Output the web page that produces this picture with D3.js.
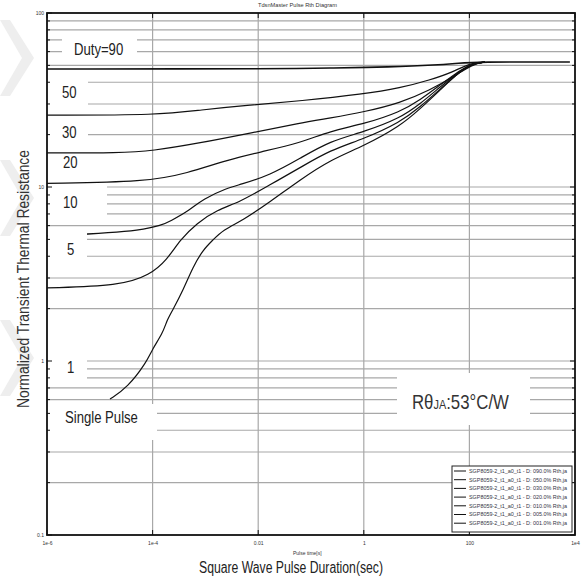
<!DOCTYPE html>
<html>
<head>
<meta charset="utf-8">
<script src="https://cdn.jsdelivr.net/npm/d3@7"></script>
<style>
  body { margin: 0; background: #fff; }
  svg { display: block; font-family: 'Liberation Sans', Arial, sans-serif; }
</style>
</head>
<body>
<script>
// pulse duration [s] vs thermal impedance
const duty90 = [[1e-6,47.7],[0.04,47.7],[0.23,48.3],[3.1,48.9],[24,50.2],[66,51.6],[128,52.3],[8000,52.3]];
const duty50 = [[1e-6,25.9],[1.4e-4,25.9],[7.9e-4,27.7],[7e-3,29.6],[0.062,31.2],[1,34.2],[4.9,37.1],[18,41.2],[49,45.8],[103,51.6],[197,52.3]];
const duty30 = [[1e-6,15.7],[2.4e-5,15.7],[9.7e-5,16.1],[7.9e-4,17.9],[7e-3,20.4],[0.062,23.3],[0.23,24.9],[1,27.0],[4.9,30.4],[18,36.1],[49,42.9],[117,50.9],[197,52.3]];
const duty20 = [[1e-6,10.5],[7.8e-5,10.7],[4.5e-4,12.0],[2.6e-3,14.3],[0.011,15.9],[0.062,17.9],[0.23,21.0],[1,23.0],[4.9,27.0],[11.6,31.6],[28,38.6],[53,44.6],[103,50.9],[197,52.3]];
const duty10 = [[1e-6,5.23],[8.9e-5,5.58],[2.4e-4,6.46],[5.1e-4,7.38],[9e-4,8.53],[2.6e-3,9.87],[4.5e-3,10.3],[0.0167,11.7],[0.062,14.6],[0.23,18.4],[1,20.7],[4.9,24.9],[11.6,30.0],[28,37.6],[53,44.0],[103,50.9],[197,52.3]];
const duty5  = [[1e-6,2.63],[2.4e-5,2.70],[8.9e-5,3.12],[1.87e-4,3.81],[3.3e-4,4.96],[6.9e-4,6.21],[1.66e-3,7.38],[4.5e-3,8.20],[0.0167,10.3],[0.062,12.9],[0.23,16.3],[1,18.9],[4.9,23.6],[11.6,28.8],[28,36.6],[53,43.4],[103,50.9],[197,52.3]];
const duty1  = [[1.56e-5,0.605],[3.3e-5,0.70],[7.8e-5,0.99],[9.7e-5,1.16],[1.57e-4,1.45],[1.87e-4,1.72],[2.4e-4,1.96],[3.8e-4,2.56],[5.8e-4,3.47],[9e-4,4.35],[1.39e-3,4.96],[2.15e-3,5.66],[5.2e-3,6.46],[0.0167,8.20],[0.062,11.0],[0.23,14.3],[1,17.2],[4.9,22.4],[11.6,28.1],[28,36.1],[53,43.4],[103,50.9],[197,52.3]];

const series = [duty90, duty50, duty30, duty20, duty10, duty5, duty1];
const legendNames = [
  'SGP8059-2_t1_a0_t1 - D: 090.0% Rth,ja',
  'SGP8059-2_t1_a0_t1 - D: 050.0% Rth,ja',
  'SGP8059-2_t1_a0_t1 - D: 030.0% Rth,ja',
  'SGP8059-2_t1_a0_t1 - D: 020.0% Rth,ja',
  'SGP8059-2_t1_a0_t1 - D: 010.0% Rth,ja',
  'SGP8059-2_t1_a0_t1 - D: 005.0% Rth,ja',
  'SGP8059-2_t1_a0_t1 - D: 001.0% Rth,ja'
];
const xTicks = [1e-6, 1e-4, 0.01, 1, 100, 1e4];
const xTickLabels = ['1e-6', '1e-4', '0.01', '1', '100', '1e4'];
const yTicks = [0.1, 1, 10, 100];
const yTickLabels = ['0.1', '1', '10', '100'];

const W = 587, H = 579;
const plot = { left: 47, right: 575, top: 13, bottom: 535 };

const svg = d3.select('body').append('svg')
  .attr('width', W).attr('height', H);

svg.append('rect').attr('width', W).attr('height', H).attr('fill', '#fff');

// faint scan watermark on the left margin
svg.append('g').attr('fill', '#eeeeee')
  .selectAll('path').data([20, 160, 320]).join('path')
  .attr('d', y0 => `M0,${y0} L10,${y0} L34,${y0 + 38} L10,${y0 + 76} L0,${y0 + 76} L22,${y0 + 38} Z`);

const x = d3.scaleLog().domain([1e-6, 1e4]).range([plot.left, plot.right]);
const y = d3.scaleLog().domain([0.1, 100]).range([plot.bottom, plot.top]);

// minor grid values 0.1..100
const yGrid = [];
[0.1, 1, 10].forEach(d => { for (let k = 1; k <= 9; k++) yGrid.push(+(k * d).toPrecision(3)); });
yGrid.push(100);

const grid = svg.append('g').attr('stroke', '#a8a8a8').attr('stroke-width', 1.2);
grid.selectAll('line.h').data(yGrid.slice(1, -1)).join('line')
  .attr('class', 'h')
  .attr('x1', plot.left).attr('x2', plot.right)
  .attr('y1', d => y(d)).attr('y2', d => y(d));
grid.selectAll('line.v').data(xTicks.slice(1, -1)).join('line')
  .attr('class', 'v')
  .attr('x1', d => x(d)).attr('x2', d => x(d))
  .attr('y1', plot.top).attr('y2', plot.bottom);

// curves
const line = d3.line().x(d => x(d[0])).y(d => y(d[1])).curve(d3.curveBasis);
svg.append('g').attr('fill', 'none').attr('stroke', '#111')
  .selectAll('path').data(series).join('path')
  .attr('stroke-width', (d, i) => i === 0 ? 1.6 : 1.2)
  .attr('d', line);

// labels on white patches (they hide grid and curve bits behind them)
const notes = [
  { text: 'Duty=90', x: 74, y: 55, box: [62, 35, 137, 60] },
  { text: '50', x: 62, y: 98, box: [48, 75, 88, 110] },
  { text: '30', x: 62, y: 138, box: [48, 122, 88, 146] },
  { text: '20', x: 63, y: 168, box: [48, 156, 88, 178] },
  { text: '10', x: 63, y: 208, box: [48, 186, 107, 222] },
  { text: '5', x: 67, y: 255, box: [48, 231, 87, 265] },
  { text: '1', x: 67, y: 373, box: [48, 356, 87, 384] },
  { text: 'Single Pulse', x: 65, y: 423, box: [48, 404, 157, 440] }
];
const ng = svg.append('g');
notes.forEach(n => {
  ng.append('rect')
    .attr('x', n.box[0]).attr('y', n.box[1])
    .attr('width', n.box[2] - n.box[0]).attr('height', n.box[3] - n.box[1])
    .attr('fill', '#fff');
  ng.append('text')
    .attr('transform', `translate(${n.x},${n.y}) scale(0.82,1)`)
    .attr('font-size', 16).attr('fill', '#222')
    .text(n.text);
});

// R theta box
ng.append('rect').attr('x', 397).attr('y', 373).attr('width', 133).attr('height', 52).attr('fill', '#fff');
const rt = ng.append('text').attr('transform', 'translate(412,409) scale(0.84,1)')
  .attr('font-size', 20).attr('fill', '#333');
rt.append('tspan').text('Rθ');
rt.append('tspan').attr('font-size', 13).text('JA');
rt.append('tspan').text(':53°C/W');

// frame + ticks
const axes = svg.append('g');
axes.append('g').attr('transform', `translate(0,${plot.bottom})`)
  .call(d3.axisBottom(x).tickValues(xTicks).tickFormat((d, i) => xTickLabels[i]).tickSize(0).tickPadding(6))
  .call(g => g.select('.domain').remove())
  .selectAll('text').attr('font-size', 5).attr('fill', '#333');
axes.append('g').attr('transform', `translate(${plot.left},0)`)
  .call(d3.axisLeft(y).tickValues(yTicks).tickFormat((d, i) => yTickLabels[i]).tickSize(0).tickPadding(3))
  .call(g => g.select('.domain').remove())
  .selectAll('text').attr('font-size', 5).attr('fill', '#333');

// small inner ticks
const tk = axes.append('g').attr('stroke', '#111').attr('stroke-width', 1);
tk.selectAll('line.l').data(yGrid).join('line').attr('class', 'l')
  .attr('x1', plot.left).attr('x2', d => plot.left + (yTicks.includes(d) ? 5 : 3))
  .attr('y1', d => y(d)).attr('y2', d => y(d));
tk.selectAll('line.r').data(yGrid).join('line').attr('class', 'r')
  .attr('x1', plot.right).attr('x2', d => plot.right - (yTicks.includes(d) ? 5 : 3))
  .attr('y1', d => y(d)).attr('y2', d => y(d));
tk.selectAll('line.t').data(xTicks).join('line').attr('class', 't')
  .attr('x1', d => x(d)).attr('x2', d => x(d))
  .attr('y1', plot.top).attr('y2', plot.top + 5);
tk.selectAll('line.b').data(xTicks).join('line').attr('class', 'b')
  .attr('x1', d => x(d)).attr('x2', d => x(d))
  .attr('y1', plot.bottom).attr('y2', plot.bottom - 5);

axes.append('rect')
  .attr('x', plot.left).attr('y', plot.top)
  .attr('width', plot.right - plot.left).attr('height', plot.bottom - plot.top)
  .attr('fill', 'none').attr('stroke', '#111').attr('stroke-width', 1.8);

// legend
const lg = svg.append('g');
lg.append('rect').attr('x', 452).attr('y', 466).attr('width', 120).attr('height', 66)
  .attr('fill', '#fff').attr('stroke', '#222').attr('stroke-width', 1);
lg.selectAll('g.row').data(legendNames).join('g').attr('class', 'row')
  .attr('transform', (d, i) => `translate(0,${471 + i * 8.7})`)
  .each(function (d) {
    const r = d3.select(this);
    r.append('line').attr('x1', 454).attr('x2', 466).attr('stroke', '#111').attr('stroke-width', 1);
    r.append('text').attr('x', 469).attr('dy', '0.35em').attr('font-size', 5.2).attr('fill', '#334')
      .attr('textLength', 98).attr('lengthAdjust', 'spacingAndGlyphs').text(d);
  });

// titles
svg.append('text').attr('x', 258).attr('y', 7).attr('font-size', 5.5).attr('fill', '#333')
  .attr('textLength', 79).attr('lengthAdjust', 'spacingAndGlyphs')
  .text('TdsnMaster Pulse Rth Diagram');
svg.append('text').attr('x', 293).attr('y', 555).attr('font-size', 5).attr('fill', '#333')
  .text('Pulse time[s]');
svg.append('text').attr('x', 199).attr('y', 573).attr('font-size', 16).attr('fill', '#222')
  .attr('textLength', 184).attr('lengthAdjust', 'spacingAndGlyphs')
  .text('Square Wave Pulse Duration(sec)');
svg.append('text').attr('transform', 'translate(29,408) rotate(-90)')
  .attr('font-size', 16.5).attr('fill', '#333')
  .attr('textLength', 258).attr('lengthAdjust', 'spacingAndGlyphs')
  .text('Normalized Transient Thermal Resistance');
</script>
</body>
</html>
